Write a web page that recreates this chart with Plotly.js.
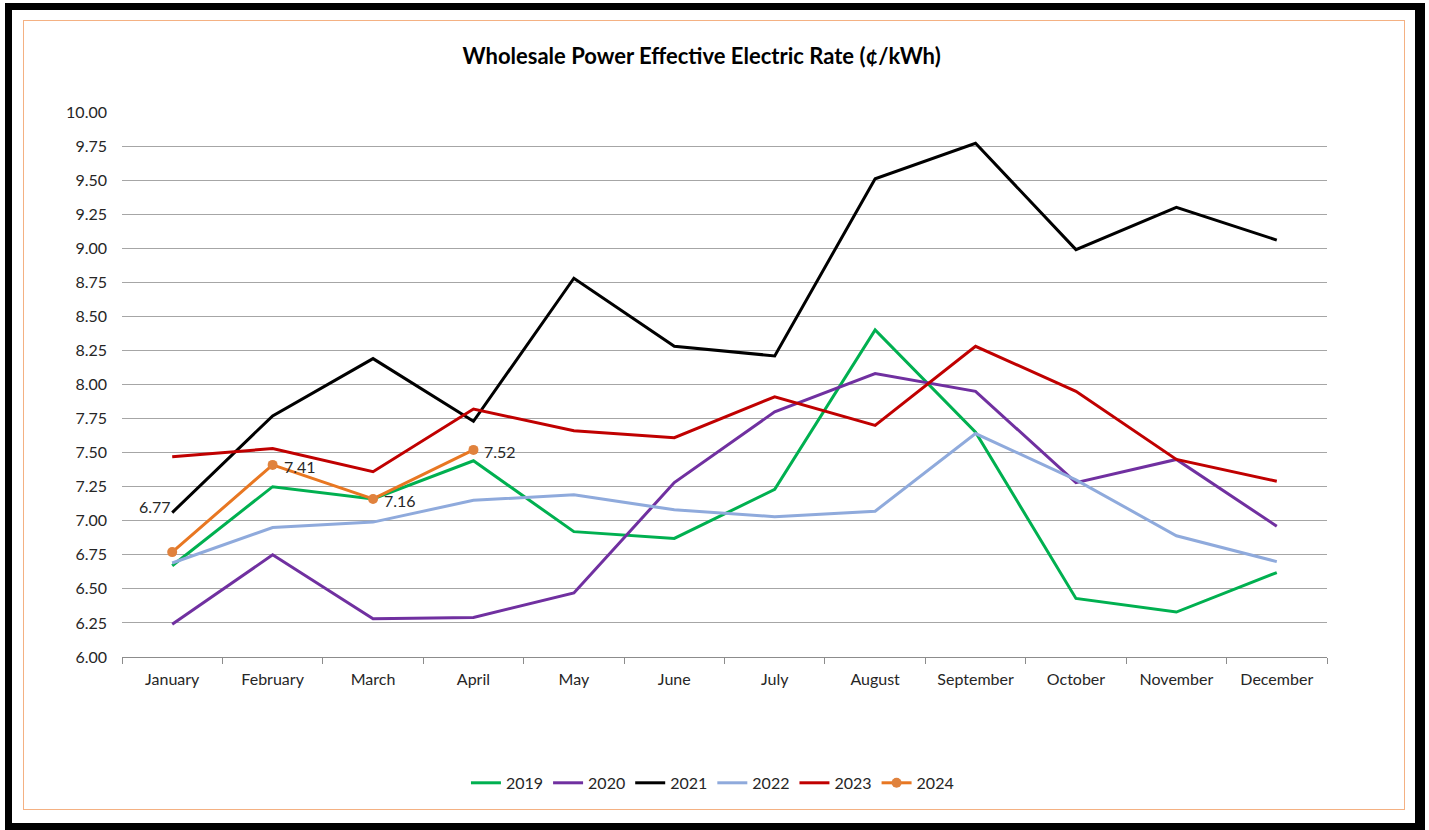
<!DOCTYPE html>
<html>
<head>
<meta charset="utf-8">
<script src="https://cdn.plot.ly/plotly-3.0.1.min.js"></script>
<style>
html,body{margin:0;padding:0;background:#fff;width:1429px;height:830px;overflow:hidden;}
#frame{position:absolute;left:5px;top:3px;width:1420px;height:827px;box-sizing:border-box;border:7px solid #000;border-right-width:10px;}
#inner{position:absolute;left:23px;top:20px;width:1382px;height:790px;box-sizing:border-box;border:1px solid #f4b183;}
#chart{position:absolute;left:0;top:0;width:1429px;height:830px;}
</style>
</head>
<body>
<div id="frame"></div>
<div id="inner"></div>
<div id="chart"></div>
<script>
const months = ["January","February","March","April","May","June","July","August","September","October","November","December"];
const yTicks = [6.00,6.25,6.50,6.75,7.00,7.25,7.50,7.75,8.00,8.25,8.50,8.75,9.00,9.25,9.50,9.75,10.00];
const v2019 = [6.67,7.25,7.16,7.44,6.92,6.87,7.23,8.40,7.65,6.43,6.33,6.62];
const v2020 = [6.24,6.75,6.28,6.29,6.47,7.28,7.80,8.08,7.95,7.28,7.45,6.96];
const v2021 = [7.06,7.77,8.19,7.73,8.78,8.28,8.21,9.51,9.77,8.99,9.30,9.06];
const v2022 = [6.69,6.95,6.99,7.15,7.19,7.08,7.03,7.07,7.64,7.30,6.89,6.70];
const v2023 = [7.47,7.53,7.36,7.82,7.66,7.61,7.91,7.70,8.28,7.95,7.45,7.29];
const v2024 = [6.77,7.41,7.16,7.52];

const font = "Lato, 'Open Sans', sans-serif";
function line(name, y, color) {
  return {type:"scatter", mode:"lines", name:name, x:months.slice(0,y.length), y:y,
          line:{color:color, width:3}};
}
const traces = [
  line("2019", v2019, "#00b050"),
  line("2020", v2020, "#7030a0"),
  line("2021", v2021, "#000000"),
  line("2022", v2022, "#8faadc"),
  line("2023", v2023, "#c00000"),
  {type:"scatter", mode:"lines+markers", name:"2024", x:months.slice(0,v2024.length), y:v2024,
   line:{color:"#e87722", width:3}, marker:{color:"#e0823d", size:10}}
];

const annotations = v2024.map((v,i)=>({
  x: months[i], y: v, text: v.toFixed(2), showarrow:false,
  xanchor: i===0 ? "center" : "left",
  yanchor: "middle",
  xshift: i===0 ? -17 : 9,
  yshift: i===0 ? 46 : -2,
  font:{family:font, size:16, color:"#262626"}
}));

const layout = {
  width:1429, height:830,
  margin:{l:122, r:102, t:112, b:173},
  paper_bgcolor:"rgba(0,0,0,0)", plot_bgcolor:"#ffffff",
  title:{text:"<b>Wholesale Power Effective Electric Rate (¢/kWh)</b>", x:0.491, xanchor:"center", y:0.932, yanchor:"middle",
         font:{family:font, size:22, color:"#000"}},
  xaxis:{type:"category", categoryarray:months, range:[-0.5,11.5], tickson:"boundaries",
         ticks:"outside", ticklen:6, tickcolor:"#8c8c8c", showgrid:false,
         showline:true, linecolor:"#8c8c8c", linewidth:1, zeroline:false, ticklabelstandoff:8,
         tickfont:{family:font, size:16, color:"#262626"}},
  yaxis:{range:[6,10], tickvals:yTicks, ticktext:yTicks.map(t=>t.toFixed(2)),
         showgrid:true, gridcolor:"#a6a6a6", gridwidth:1, zeroline:false, showline:false,
         ticks:"", ticklabelstandoff:14,
         tickfont:{family:font, size:16, color:"#262626"}},
  showlegend:true,
  legend:{orientation:"h", x:0.49, xanchor:"center", y:-0.231, yanchor:"middle",
          font:{family:font, size:16, color:"#262626"}, itemwidth:30, tracegroupgap:0},
  annotations:annotations
};
Plotly.newPlot("chart", traces, layout, {displayModeBar:false, staticPlot:true});
</script>
</body>
</html>
